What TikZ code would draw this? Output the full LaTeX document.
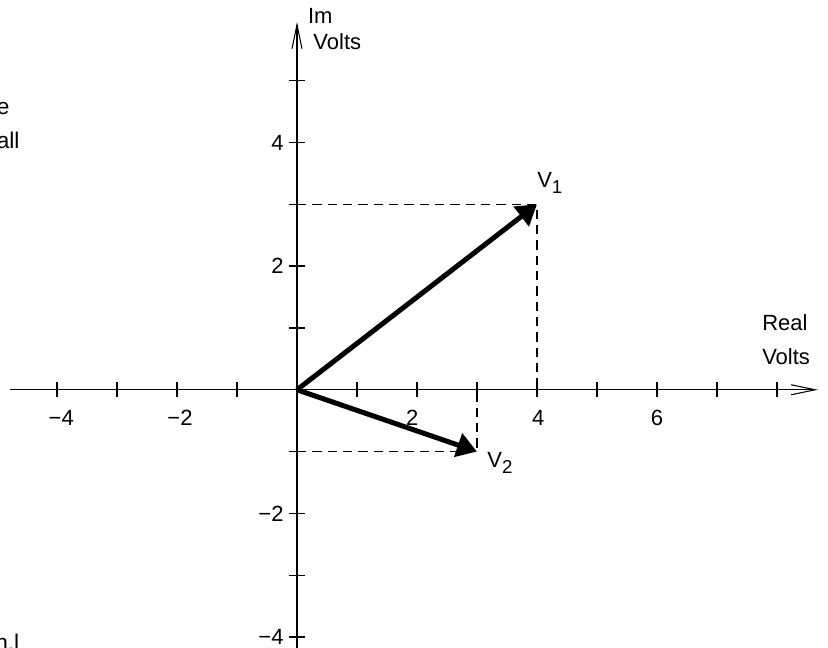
\documentclass[tikz,border=0pt]{standalone}
\usepackage{fontspec}
\setmainfont{Liberation Sans}
\usetikzlibrary{arrows.meta}

\begin{document}
\begin{tikzpicture}[x=45pt,y=46.35pt]
      \tikzstyle{axis}=[line width=1pt,-{Straight Barb[length=18pt,width=7.5pt,line width=0.8pt]}]
      \tikzstyle{tick}=[line width=1pt]
      \tikzstyle{guide}=[line width=0.8pt,dash pattern=on 7pt off 4.5pt]
      \tikzstyle{phasor}=[line width=3.75pt,-{Triangle[length=15pt,width=18pt]}]
      \tikzstyle{lbl}=[font=\fontsize{16.5}{19}\selectfont,inner sep=0pt]
      \tikzstyle{frag}=[font=\fontsize{17}{20}\selectfont,inner sep=0pt]
      \useasboundingbox (-4.95,-4.178) rectangle (8.85,6.307);
      \coordinate (O)   at (0,0);
      \coordinate (X_0) at (-4.78,0);
      \coordinate (X_1) at (8.68,0);
      \coordinate (Y_0) at (0,-4.3);
      \coordinate (Y_1) at (0,5.95);
      \coordinate (V_1) at (4,3);
      \coordinate (V_2) at (3,-1);
      % projections
      \draw[guide] (V_1 -| O) -- (V_1) -- (V_1 |- O);
      \draw[guide] (V_2 -| O) -- (V_2) -- (V_2 |- O);
      % axes
      \draw[axis] (X_0) -- (X_1);
      \draw[axis] (Y_0) -- (Y_1);
      \foreach \i in {-4,...,-1,1,2,...,8}
        \draw[tick] (\i,-0.12) -- (\i,0.12);
      \foreach \j in {-4,...,-1,1,2,...,5}
        \draw[tick] (-0.133,\j) -- (0.133,\j);
      \foreach \p/\t [count=\k] in {-3.93/−4,-1.95/−2,1.92/2,4.02/4,6.0/6}
        \node[lbl] (xnum\k) at (\p,-0.46) {\t};
      \foreach \p/\t [count=\k] in {4/4,2/2,-2/−2,-4/−4}
        \node[lbl,anchor=east] (ynum\k) at (-0.22,\p) {\t};
      \node[lbl,anchor=west] (im)      at (0.18,6.05) {Im};
      \node[lbl,anchor=west] (imvolts) at (0.27,5.64) {Volts};
      \node[lbl,anchor=west] (re)      at (7.75,1.08) {Real};
      \node[lbl,anchor=west] (revolts) at (7.75,0.53) {Volts};
      % phasors
      \draw[phasor] (O) -- (V_1);
      \draw[phasor] (O) -- (V_2);
      \node[lbl,anchor=base west] (v1) at (4.0,3.265) {V\raisebox{-4pt}{\fontsize{14}{14}\selectfont 1}};
      \node[lbl,anchor=base west] (v2) at (3.17,-1.265) {V\raisebox{-4pt}{\fontsize{14}{14}\selectfont 2}};
      % text cut at the page edge
      \node[frag,anchor=base west] (fa) at (-5.008,4.447) {e};
      \node[frag,anchor=base west] (fb) at (-5.008,3.91) {all};
      \node[frag,anchor=base east] (fc) at (-4.625,-4.215) {n.l};
    \end{tikzpicture}
\end{document}
